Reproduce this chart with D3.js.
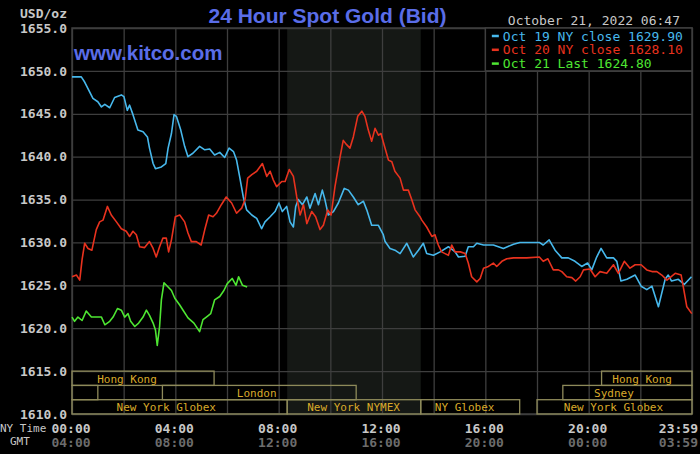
<!DOCTYPE html>
<html>
<head>
<meta charset="utf-8">
<script src="https://cdn.jsdelivr.net/npm/d3@7"></script>
<style>
  body { margin: 0; background: #000; }
  svg { display: block; }
</style>
</head>
<body>
<svg id="chart" width="700" height="454"></svg>
<script>
// prices, [hour of NY day, USD/oz]
const oct19 = [[0,1649.3],[0.36,1649.3],[0.49,1648.7],[0.81,1646.8],[1.0,1646.4],[1.14,1645.8],[1.27,1646.1],[1.46,1645.7],[1.65,1646.9],[1.91,1647.2],[2.01,1647.0],[2.14,1645.4],[2.23,1646.0],[2.36,1644.9],[2.55,1643.1],[2.75,1642.9],[2.92,1642.3],[3.0,1641.0],[3.14,1639.2],[3.23,1638.6],[3.46,1638.8],[3.63,1639.2],[3.72,1641.0],[3.85,1642.7],[3.95,1644.9],[4.04,1644.7],[4.21,1643.1],[4.36,1641.2],[4.49,1640.0],[4.68,1640.4],[4.94,1641.2],[5.14,1640.8],[5.33,1640.9],[5.52,1640.2],[5.72,1640.5],[5.91,1639.9],[6.08,1641.0],[6.25,1640.6],[6.37,1639.6],[6.5,1637.5],[6.63,1635.3],[6.76,1633.8],[6.96,1633.2],[7.15,1632.8],[7.34,1631.6],[7.47,1632.4],[7.67,1633.0],[7.86,1633.6],[8.01,1634.6],[8.14,1633.6],[8.31,1634.2],[8.44,1632.4],[8.57,1631.8],[8.66,1634.2],[8.76,1635.0],[8.92,1634.4],[9.09,1635.3],[9.21,1634.0],[9.41,1635.7],[9.54,1634.4],[9.69,1636.1],[9.79,1635.0],[9.92,1633.2],[10.12,1633.6],[10.31,1634.6],[10.54,1636.3],[10.7,1636.1],[10.89,1635.3],[11.08,1634.4],[11.28,1634.8],[11.41,1633.8],[11.6,1632.0],[11.86,1632.0],[12.05,1630.9],[12.12,1630.1],[12.31,1629.3],[12.5,1629.1],[12.7,1628.7],[12.96,1629.9],[13.21,1628.3],[13.41,1629.1],[13.6,1629.9],[13.73,1628.7],[13.99,1628.5],[14.25,1628.9],[14.57,1629.5],[14.83,1628.9],[14.96,1628.3],[15.22,1628.4],[15.34,1629.5],[15.54,1629.5],[15.67,1629.9],[15.93,1629.7],[16.31,1629.7],[16.7,1629.3],[17.09,1629.8],[17.34,1630.0],[17.73,1630.0],[18.09,1630.0],[18.24,1629.7],[18.47,1630.3],[18.7,1629.1],[18.96,1628.2],[19.21,1628.2],[19.47,1627.8],[19.73,1627.2],[19.96,1627.6],[20.12,1626.8],[20.31,1628.3],[20.48,1629.3],[20.7,1628.2],[20.96,1628.2],[21.09,1627.8],[21.25,1625.5],[21.48,1625.7],[21.8,1626.2],[22.03,1624.9],[22.25,1624.5],[22.45,1624.9],[22.7,1622.5],[22.96,1625.7],[23.08,1626.2],[23.21,1625.5],[23.47,1625.7],[23.7,1625.1],[23.98,1626.0]]

const oct20 = [[0,1626.0],[0.17,1626.2],[0.3,1625.6],[0.39,1628.0],[0.49,1629.9],[0.62,1629.3],[0.77,1629.1],[0.94,1631.5],[1.07,1632.4],[1.2,1632.6],[1.37,1634.2],[1.52,1633.2],[1.72,1632.4],[1.91,1631.6],[2.1,1631.3],[2.23,1630.7],[2.36,1631.3],[2.49,1630.9],[2.62,1629.5],[2.81,1629.4],[3.0,1630.1],[3.14,1629.3],[3.26,1628.3],[3.39,1629.5],[3.52,1630.5],[3.65,1630.5],[3.74,1628.9],[3.85,1630.3],[4.0,1633.0],[4.17,1633.2],[4.36,1632.4],[4.49,1631.1],[4.62,1630.1],[4.81,1630.1],[5.0,1629.7],[5.14,1631.5],[5.29,1633.2],[5.46,1633.0],[5.59,1633.4],[5.78,1634.4],[5.97,1635.3],[6.18,1634.6],[6.37,1633.4],[6.57,1634.0],[6.7,1635.0],[6.8,1637.5],[6.96,1637.9],[7.15,1638.3],[7.37,1639.2],[7.54,1637.7],[7.67,1638.3],[7.79,1637.3],[7.92,1636.5],[8.12,1637.1],[8.25,1637.1],[8.41,1638.5],[8.57,1637.7],[8.7,1635.3],[8.83,1633.2],[8.96,1634.4],[9.09,1632.2],[9.28,1633.6],[9.43,1633.0],[9.6,1631.5],[9.73,1632.0],[9.9,1633.8],[10.03,1633.2],[10.18,1636.5],[10.38,1640.0],[10.5,1641.9],[10.63,1641.4],[10.76,1641.0],[10.89,1642.3],[11.06,1644.7],[11.22,1645.3],[11.34,1644.7],[11.47,1643.1],[11.6,1641.8],[11.73,1643.3],[11.86,1642.5],[11.96,1642.7],[12.05,1641.7],[12.25,1639.6],[12.38,1639.4],[12.5,1638.3],[12.7,1637.5],[12.83,1636.1],[13.02,1636.1],[13.15,1635.0],[13.28,1633.8],[13.47,1633.0],[13.54,1632.6],[13.73,1631.8],[13.93,1630.7],[14.05,1630.9],[14.18,1629.7],[14.31,1628.9],[14.44,1628.7],[14.57,1628.5],[14.7,1629.7],[14.83,1628.9],[15.03,1628.9],[15.22,1628.7],[15.34,1627.6],[15.47,1626.0],[15.67,1625.4],[15.8,1625.8],[15.93,1627.0],[16.12,1627.2],[16.31,1627.6],[16.44,1627.2],[16.64,1627.8],[16.83,1628.1],[17.09,1628.2],[17.6,1628.2],[18.09,1628.3],[18.24,1627.8],[18.42,1628.1],[18.63,1626.8],[18.83,1626.8],[18.96,1626.6],[19.15,1626.0],[19.35,1625.9],[19.5,1625.5],[19.67,1626.0],[19.8,1626.8],[20.05,1626.9],[20.25,1626.0],[20.44,1626.6],[20.7,1626.4],[20.96,1627.4],[21.15,1626.4],[21.38,1627.8],[21.6,1627.0],[21.8,1627.4],[22.03,1627.4],[22.25,1626.8],[22.45,1626.6],[22.64,1626.6],[22.83,1626.2],[23.03,1625.6],[23.35,1626.4],[23.58,1626.2],[23.67,1624.7],[23.8,1622.5],[23.99,1621.7]]

const oct21 = [[0,1621.3],[0.1,1620.8],[0.23,1621.3],[0.39,1620.9],[0.55,1622.0],[0.75,1621.3],[0.94,1621.3],[1.14,1621.3],[1.27,1620.4],[1.46,1620.8],[1.59,1621.3],[1.76,1622.3],[1.91,1622.1],[2.04,1621.3],[2.17,1621.7],[2.27,1620.8],[2.43,1620.2],[2.58,1620.6],[2.75,1621.3],[2.88,1622.1],[3.0,1621.5],[3.14,1620.6],[3.23,1619.8],[3.3,1618.0],[3.39,1620.2],[3.46,1623.3],[3.56,1625.3],[3.72,1624.8],[3.85,1624.4],[3.98,1623.5],[4.17,1622.7],[4.3,1622.1],[4.49,1621.2],[4.72,1620.6],[4.94,1619.6],[5.07,1621.0],[5.2,1621.3],[5.37,1621.7],[5.52,1623.3],[5.72,1623.7],[5.88,1624.4],[6.01,1625.2],[6.2,1625.8],[6.35,1625.0],[6.45,1626.0],[6.6,1625.0],[6.78,1624.8]]

const seriesNames = ["Oct 19 NY close 1629.90", "Oct 20 NY close 1628.10", "Oct 21 Last 1624.80"]
const seriesColors = ["#47b8ec", "#e8321e", "#4ee632"]

const priceTicks = [1610, 1615, 1620, 1625, 1630, 1635, 1640, 1645, 1650, 1655]
const labelHours = [0, 4, 8, 12, 16, 20, 24]
const nyLabels = ["00:00", "04:00", "08:00", "12:00", "16:00", "20:00", "23:59"]
const gmtLabels = ["04:00", "08:00", "12:00", "16:00", "20:00", "00:00", "03:59"]

// COMEX open, shaded
const shadeHours = [8.33, 13.5]

// trading sessions: row, start, end, name, where the name sits
const sessRow   = [0, 0, 1, 1, 1, 2, 2, 2, 2]
const sessStart = [0, 20.5, 0, 3.5, 19, 0, 8.33, 13.5, 18]
const sessEnd   = [5.5, 24, 1, 11, 24, 8.33, 13.5, 17.33, 24]
const sessName  = ["Hong Kong", "Hong Kong", "", "London", "Sydney", "New York Globex", "New York NYMEX", "NY Globex", "New York Globex"]
const sessLabelAt = [2.13, 22.07, 0, 7.15, 20.98, 3.65, 10.9, 15.2, 20.96]

const mono = "'DejaVu Sans Mono', monospace"
const sans = "'Liberation Sans', Arial, sans-serif"
const gridColor = "#3e3e3e"
const tickColor = "#c8c8c8"

const margin = {top: 28, right: 8, bottom: 40, left: 72}
const svg = d3.select("#chart")
const width = +svg.attr("width"), height = +svg.attr("height")
const plotW = width - margin.left - margin.right
const plotH = height - margin.top - margin.bottom

const x = d3.scaleLinear().domain([0, 24]).range([margin.left, margin.left + plotW])
const y = d3.scaleLinear().domain([1610, 1655]).range([margin.top + plotH, margin.top])

svg.append("rect").attr("width", width).attr("height", height).attr("fill", "#000")

// shaded comex hours
svg.append("rect")
  .attr("x", x(shadeHours[0]))
  .attr("y", y(1655))
  .attr("width", x(shadeHours[1]) - x(shadeHours[0]))
  .attr("height", y(1610) - y(1655))
  .attr("fill", "#151815")

// vertical grid
const xGrid = d3.axisBottom(x).tickValues(d3.range(0, 25, 2)).tickSize(-plotH).tickFormat("")
svg.append("g")
  .attr("transform", "translate(0," + y(1610) + ")")
  .call(xGrid)
  .call(g => g.select(".domain").remove())
  .selectAll("line").attr("stroke", gridColor).attr("stroke-width", 1.3)

// horizontal grid + price labels
const yAxis = d3.axisLeft(y).tickValues(priceTicks).tickSize(-plotW).tickPadding(5).tickFormat(d3.format(".1f"))
svg.append("g")
  .attr("transform", "translate(" + margin.left + ",0)")
  .call(yAxis)
  .call(g => g.select(".domain").remove())
  .call(g => g.selectAll("line").attr("stroke", gridColor).attr("stroke-width", 1.3))
  .call(g => g.selectAll("text")
    .attr("fill", tickColor)
    .attr("font-family", mono)
    .attr("font-weight", "bold")
    .attr("font-size", 13))

svg.append("rect")
  .attr("x", x(0)).attr("y", y(1655))
  .attr("width", x(24) - x(0)).attr("height", y(1610) - y(1655))
  .attr("fill", "none").attr("stroke", gridColor).attr("stroke-width", 1.5)

// sessions
const rowH = (y(1610) - y(1615)) / 3
const sessions = sessName.map((name, i) => ({
  row: sessRow[i], start: sessStart[i], end: sessEnd[i], name: name, at: sessLabelAt[i]
}))

svg.append("g").selectAll("rect")
  .data(sessions)
  .enter()
  .append("rect")
  .attr("x", d => x(d.start))
  .attr("y", d => y(1615) + d.row * rowH)
  .attr("width", d => x(d.end) - x(d.start))
  .attr("height", rowH)
  .attr("fill", "none")
  .attr("stroke", "#8e8a5a")
  .attr("stroke-width", 1.3)

svg.append("g").selectAll("text")
  .data(sessions.filter(d => d.name))
  .enter()
  .append("text")
  .attr("x", d => x(d.at))
  .attr("y", d => y(1615) + (d.row + 0.5) * rowH + 1)
  .attr("text-anchor", "middle")
  .attr("dominant-baseline", "central")
  .attr("fill", "#d9aa2a")
  .attr("font-family", mono)
  .attr("font-size", 11)
  .text(d => d.name)

// legend box
const lx = x(16), ly = y(1655)
svg.append("rect")
  .attr("x", lx).attr("y", ly)
  .attr("width", x(24) - lx).attr("height", y(1650) - ly)
  .attr("fill", "#000").attr("stroke", gridColor).attr("stroke-width", 1.5)

// price lines
const line = d3.line().x(d => x(d[0])).y(d => y(d[1]))
const allSeries = [oct19, oct20, oct21]

svg.append("g").selectAll("path")
  .data(allSeries)
  .enter()
  .append("path")
  .attr("d", line)
  .attr("fill", "none")
  .attr("stroke", (d, i) => seriesColors[i])
  .attr("stroke-width", 1.6)
  .attr("stroke-linejoin", "round")

const legendRows = svg.append("g").selectAll("g")
  .data(seriesNames)
  .enter()
  .append("g")
  .attr("transform", (d, i) => "translate(" + lx + "," + (ly + 8 + i * 13.8) + ")")

legendRows.append("line")
  .attr("x1", 6.5).attr("x2", 13.5)
  .attr("y1", 0).attr("y2", 0)
  .attr("stroke", (d, i) => seriesColors[i])
  .attr("stroke-width", 2.5)

legendRows.append("text")
  .attr("x", 17.5)
  .attr("dominant-baseline", "central")
  .attr("fill", (d, i) => seriesColors[i])
  .attr("font-family", mono)
  .attr("font-size", 13)
  .text(d => d)

// time labels
const timeLabels = labelHours.map((h, i) => ({h: h, ny: nyLabels[i], gmt: gmtLabels[i]}))
const anchorFor = (d, i) => i === labelHours.length - 1 ? "end" : "middle"
const xFor = (d, i) => i === labelHours.length - 1 ? x(d.h) + 6 : x(d.h) - 1

svg.append("g").selectAll("text")
  .data(timeLabels)
  .enter()
  .append("text")
  .attr("x", xFor)
  .attr("y", 428)
  .attr("text-anchor", anchorFor)
  .attr("dominant-baseline", "central")
  .attr("fill", tickColor)
  .attr("font-family", mono)
  .attr("font-weight", "bold")
  .attr("font-size", 13)
  .text(d => d.ny)

svg.append("g").selectAll("text")
  .data(timeLabels)
  .enter()
  .append("text")
  .attr("x", xFor)
  .attr("y", 442)
  .attr("text-anchor", anchorFor)
  .attr("dominant-baseline", "central")
  .attr("fill", "#6c6c6c")
  .attr("font-family", mono)
  .attr("font-weight", "bold")
  .attr("font-size", 13)
  .text(d => d.gmt)

svg.append("text")
  .attr("x", 0).attr("y", 428)
  .attr("dominant-baseline", "central")
  .attr("fill", tickColor)
  .attr("font-family", mono)
  .attr("font-size", 11)
  .text("NY Time")

svg.append("text")
  .attr("x", 10).attr("y", 441)
  .attr("dominant-baseline", "central")
  .attr("fill", tickColor)
  .attr("font-family", mono)
  .attr("font-size", 11)
  .text("GMT")

svg.append("text")
  .attr("x", margin.left - 5).attr("y", 13)
  .attr("text-anchor", "end")
  .attr("dominant-baseline", "central")
  .attr("fill", tickColor)
  .attr("font-family", mono)
  .attr("font-weight", "bold")
  .attr("font-size", 13)
  .text("USD/oz")

// titles
svg.append("text")
  .attr("x", 327.5).attr("y", 23)
  .attr("text-anchor", "middle")
  .attr("fill", "#5a6de8")
  .attr("font-family", sans)
  .attr("font-weight", "bold")
  .attr("font-size", 21)
  .text("24 Hour Spot Gold (Bid)")

svg.append("text")
  .attr("x", 74).attr("y", 60)
  .attr("fill", "#5a6de8")
  .attr("font-family", sans)
  .attr("font-weight", "bold")
  .attr("font-size", 20.5)
  .text("www.kitco.com")

svg.append("text")
  .attr("x", x(24) - 12).attr("y", 20)
  .attr("text-anchor", "end")
  .attr("dominant-baseline", "central")
  .attr("fill", tickColor)
  .attr("font-family", mono)
  .attr("font-size", 13)
  .text("October 21, 2022 06:47")
</script>
</body>
</html>
